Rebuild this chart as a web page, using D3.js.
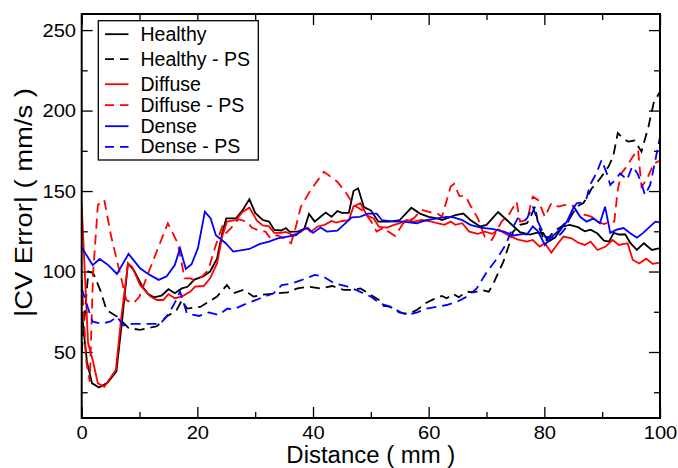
<!DOCTYPE html>
<html>
<head>
<meta charset="utf-8">
<script src="https://cdn.jsdelivr.net/npm/d3@7"></script>
<style>
  html, body { margin: 0; padding: 0; background: #fff; }
  svg { display: block; font-family: "Liberation Sans", Arial, Helvetica, sans-serif; }
</style>
</head>
<body>
<svg id="chart" width="678" height="468"></svg>
<script>
// ---------------- data (distance in mm, |CV error| in mm/s) ----------------
const healthy = [[0,75],[0.9,44],[1.8,30.5],[3,28],[4.5,31],[6,38],[7,70],[8,105],[9,101],[10.5,90.6],[11.5,86],[12.5,84],[13.8,85],[15,89],[16.1,86.5],[17.3,89.5],[18.3,90.5],[19.5,95],[21,97],[22.2,100],[23.4,108],[24.3,124],[25,133],[26.7,133],[27.8,138],[29,145],[30,136.4],[31.3,132],[32.4,131],[33.3,125.8],[34.5,125.5],[35.3,127],[36,124.6],[37.5,125],[38.5,126.5],[39.3,135.8],[40.3,131],[41.3,134],[42.2,136.6],[43.2,134],[44.2,137.6],[45,136.5],[46.2,136.5],[47,150],[47.8,151.7],[48.8,140],[50,138],[51.3,131],[53.3,131],[55,132],[57,139.6],[58.5,136],[60,134],[61.5,133],[62.3,132],[63.8,134],[64.6,135],[66,136],[67.2,132],[68.9,128],[70,129],[72,137],[73.5,132],[74.7,128],[75.8,124.5],[77.5,123],[78.6,124],[79.8,124],[80.7,118.6],[81.8,121],[83.2,128],[84.4,129],[85.8,127.6],[87,125],[88,126],[89.2,123.6],[90.3,119.2],[91.2,118.6],[92,124],[92.9,123],[94,123],[94.9,117.6],[96,113.4],[97.2,117.6],[98.6,113.4],[100,114.5]];

const healthyPS = [[0,50],[1.15,100],[2,99],[3.2,88.5],[4.3,76],[6.1,72],[8.1,65],[10.1,63.7],[13,66],[14.7,72],[16.4,76],[17.3,82],[18.2,77],[20.5,78],[23.4,84.4],[25.1,91.6],[26.2,86.5],[28,88.6],[29.7,84.4],[31,85.5],[32.4,86],[33.6,86.5],[35.6,87],[37.3,89.5],[39.3,90.6],[41.3,89.5],[43.3,91],[45.3,88.6],[47,88.6],[48.2,89.5],[50,85.5],[51.4,82.3],[52.2,78.6],[53.3,78.2],[55,74.4],[56.5,73.7],[57.9,76],[59.6,80.6],[60.8,82.7],[62.3,84.8],[63.1,83.4],[64.3,86],[65.2,84],[66.6,87.5],[67.8,87],[69.2,88.5],[70.4,87.5],[71.2,92.6],[72,99],[72.9,106],[73.8,115.5],[74.6,124.8],[75.8,129],[77,130],[77.5,133],[78.4,140.4],[79,128],[80.1,118.6],[81.2,123],[82.1,126],[83,128],[84.4,133],[85.6,140.4],[86.7,142.4],[87.3,145.5],[88.2,151.7],[89,154.8],[89.9,159],[91.1,165.2],[91.9,171.4],[92.7,186],[93.6,182.8],[94.5,180.7],[95.6,181.4],[96.8,174.5],[98,190],[98.9,204.6],[100,211.8]];

const diffuse = [[0,141.4],[1.1,55.6],[1.9,45],[2.8,30.5],[3.9,28.4],[5.9,38.8],[6.8,70],[8,105],[8.7,103],[10.1,91.6],[11.9,84.4],[13,82.3],[14.1,82.3],[15,86],[16.1,83.4],[17.3,84.4],[18.8,87.5],[19.6,90.6],[21.1,91],[22.2,95.8],[23.4,105],[24.3,121.7],[25.1,131],[26.7,132],[27.8,137],[29,139.7],[30.3,131.6],[31.3,128.6],[32.4,128],[33.3,124],[34.5,124],[35.3,124.6],[36.5,122.7],[37.9,124.6],[38.8,127.3],[39.6,124.6],[40.8,128],[42,129],[43.2,131.4],[44,130.4],[45.1,131.4],[46.2,132],[47,140.4],[48.2,142.4],[49.3,135],[50.5,133],[51.4,127.7],[52.8,127.3],[54,129],[55,130],[56.2,132],[57.4,131],[58.8,132],[60.5,131],[61.5,130],[62.7,129],[63.8,131],[64.6,129],[65.8,130],[67,124.8],[68.5,123.4],[69.7,124.8],[71,123.4],[72,126.2],[73.5,123],[75.3,120],[77,118.6],[78,119.6],[79.2,115.5],[80.1,117.6],[81.2,111.7],[82.4,117.6],[83.3,121.7],[84.7,120.6],[85.8,118],[87,116.5],[88,118.6],[89.2,113.4],[90.6,115.5],[91.8,119.6],[92.9,116.5],[94.4,117.6],[95.3,107.2],[96.4,105],[97.6,108],[98.7,104.8],[100,105.6]];

const diffusePS = [[0,95],[0.8,44],[1.4,31.5],[1.95,97.9],[2.8,141.4],[3.9,144.5],[5.1,121.7],[6.9,94.8],[7.7,82.3],[8.9,80.2],[10,84.4],[11.5,99],[13.3,115.5],[14.9,130],[16.6,117.6],[17.8,95.8],[18.8,95.8],[19.3,94.8],[20.8,96.8],[21.9,101],[23.1,115.5],[24.3,128],[25,124],[25.8,127],[27.1,132.5],[28.6,131],[29.4,127.3],[30.6,125.5],[31.8,124.8],[32.6,120.7],[33.8,122.6],[35,120.7],[36.2,117.6],[37,127.3],[37.9,140.4],[39.6,150.7],[41.9,162],[44.2,155.8],[45.7,149],[47,141.4],[48.8,137.3],[50,131.4],[51,124.8],[52.2,127.3],[53,124.8],[54.2,122],[55.6,130],[57.4,133],[58.8,138.3],[60,137],[61.5,136],[62.3,134],[63.8,152.8],[64.4,154.4],[65.3,147],[66.4,146.7],[67.3,140.4],[68.5,133],[69.7,121.6],[70.9,119.6],[71.7,124.8],[72.6,131],[73.8,135],[75.2,143.4],[75.8,131],[77,132],[78,146.5],[78.9,144.5],[80.1,134],[81.2,142.4],[82.4,140.3],[83.6,141.4],[84.8,141.4],[85.8,136.2],[87.3,135],[88.2,134],[89.2,131],[90.3,129.5],[91.5,131],[92.1,131],[92.7,150.7],[93.3,161],[94.2,165],[95.3,171.4],[96.2,175.6],[96.8,152.8],[97.7,157],[98.9,167],[100,169]];

const dense = [[0,115],[1.9,104],[3.1,107.8],[4.6,104],[6.1,98.5],[8.1,111],[10.1,102],[11.5,98.5],[13.3,94.8],[14.7,97],[16.1,104],[17,114.5],[18,101.6],[19,104.5],[20.1,114.5],[21.3,137.2],[22.3,133],[23.2,122.6],[24.9,117.6],[26.2,112.4],[29,114],[30.7,117],[32.4,118.6],[33.9,120.6],[35.3,121.6],[37.1,122.6],[38,125.8],[39.1,127],[40,124],[41.3,127.3],[42.4,124.8],[44.2,125.4],[45.3,129],[46.7,133.6],[48.1,134],[49.5,136],[51,136],[51.9,132],[54,131],[55.6,131],[57.9,130],[59.6,132],[61.5,133],[63.1,134],[64.3,133.6],[65.8,132],[67.2,129],[69,127.3],[71.2,126.3],[73,124.8],[74.7,122.4],[76.4,123.4],[77,123],[78,128],[78.9,125],[80.1,116.5],[81,120.6],[82.7,126.2],[83.9,131],[85.1,140.3],[86.2,134],[87.3,131],[88.5,133],[89.6,130],[90.5,140.3],[91.4,124],[92.5,126],[93.7,127],[94.8,124],[96,121],[97.1,124],[98.3,128],[99.2,131],[100,130.5]];

const densePS = [[0,89.6],[1.3,75],[1.9,68.8],[3.5,67.5],[5,69],[6.1,72],[7.2,66.5],[8.7,67.5],[11,67.5],[13.6,67.5],[15.1,74],[16.2,81.3],[17,87.5],[18.2,74],[20.3,72.4],[22,74.6],[23.7,73],[25.2,77],[26.2,76.5],[28.6,80.2],[30.9,83.4],[33.2,86.5],[34.6,91.6],[36.4,92.6],[38.1,94.8],[40.3,97.9],[41.7,97],[43.7,92.6],[45.7,91],[47.8,88],[50,84.4],[51.6,80.2],[53.3,78.2],[55,75],[56.2,73],[57.9,74.4],[59.6,77],[61.5,78.2],[63.1,79.2],[64.9,81.2],[66.6,84.4],[68.3,89.5],[70.1,100],[71.8,108],[73.3,116.5],[74.5,127],[75.4,133],[76.6,132],[77,133],[78,140.4],[78.9,131],[80.1,121.7],[82.1,120.7],[83,124],[83.9,128],[84.8,138.3],[85.6,142.4],[86.5,142.8],[87.3,145.5],[87.9,153.8],[89,161],[89.9,169.3],[90.8,161],[91.4,153.8],[92.3,157],[93.1,161],[94.3,157],[95.2,165.2],[96.1,161],[96.8,154.8],[97.4,147.6],[98.3,153.8],[99.2,169.3],[100,183.8]];

const seriesNames  = ["Healthy", "Healthy - PS", "Diffuse", "Diffuse - PS", "Dense", "Dense - PS"];
const seriesColors = ["#000000", "#000000", "#ff0000", "#ff0000", "#0000ff", "#0000ff"];
const seriesDashed = [false, true, false, true, false, true];
const seriesData   = [healthy, healthyPS, diffuse, diffusePS, dense, densePS];

const xMajorTicks = [0, 20, 40, 60, 80, 100];
const xMinorTicks = [10, 30, 50, 70, 90];
const yMajorTicks = [50, 100, 150, 200, 250];
const yMinorTicks = [25, 75, 125, 175, 225];
const xTitle = "Distance ( mm )";
const yTitle = "|CV Error| ( mm/s )";

// ---------------- layout ----------------
const L = 81.7, R = 660, T = 14, B = 418;
const svg = d3.select("#chart");
const x = d3.scaleLinear().domain([0, 100]).range([L, R]);
const y = d3.scaleLinear().domain([9, 260]).range([B, T]);

const SX = 1.15; // horizontal stretch of tick labels
const fmt = d3.format("d");

// bottom axis
const gB = svg.append("g").attr("transform", `translate(0,${B})`)
  .call(d3.axisBottom(x).tickValues(xMajorTicks).tickSize(-11).tickFormat(fmt));
gB.selectAll("text").attr("y", 21).attr("dy", null)
  .attr("transform", `scale(${SX},1)`).style("font-size", "17.5px").attr("fill", "#000");
svg.append("g").attr("transform", `translate(0,${B})`)
  .call(d3.axisBottom(x).tickValues(xMinorTicks).tickSize(-6).tickFormat(""));
// top axis
svg.append("g").attr("transform", `translate(0,${T})`)
  .call(d3.axisTop(x).tickValues(xMajorTicks).tickSize(-11).tickFormat(""));
svg.append("g").attr("transform", `translate(0,${T})`)
  .call(d3.axisTop(x).tickValues(xMinorTicks).tickSize(-6).tickFormat(""));
// left axis
const gL = svg.append("g").attr("transform", `translate(${L},0)`)
  .call(d3.axisLeft(y).tickValues(yMajorTicks).tickSize(-11).tickFormat(fmt));
gL.selectAll("text").attr("x", -5.7 / SX).attr("y", 6.3).attr("dy", null)
  .attr("transform", `scale(${SX},1)`).style("font-size", "17.5px").attr("fill", "#000");
svg.append("g").attr("transform", `translate(${L},0)`)
  .call(d3.axisLeft(y).tickValues(yMinorTicks).tickSize(-6).tickFormat(""));
// right axis
svg.append("g").attr("transform", `translate(${R},0)`)
  .call(d3.axisRight(y).tickValues(yMajorTicks).tickSize(-11).tickFormat(""));
svg.append("g").attr("transform", `translate(${R},0)`)
  .call(d3.axisRight(y).tickValues(yMinorTicks).tickSize(-6).tickFormat(""));

svg.selectAll(".domain").remove();
svg.selectAll(".tick line").attr("stroke", "#000").attr("stroke-width", 1.3);
svg.selectAll(".tick text").attr("font-family", null);

// clip
svg.append("clipPath").attr("id", "clip")
  .append("rect").attr("x", L).attr("y", T).attr("width", R - L).attr("height", B - T);

// lines
const line = d3.line().x(d => x(d[0])).y(d => y(d[1]));
const gLines = svg.append("g").attr("clip-path", "url(#clip)");
seriesData.forEach((data, i) => {
  gLines.append("path")
    .datum(data)
    .attr("d", line)
    .attr("fill", "none")
    .attr("stroke", seriesColors[i])
    .attr("stroke-width", 1.8)
    .attr("stroke-linejoin", "miter")
    .attr("stroke-dasharray", seriesDashed[i] ? "10,6" : null);
});

// frame
svg.append("rect").attr("x", L).attr("y", T).attr("width", R - L).attr("height", B - T)
  .attr("fill", "none").attr("stroke", "#000").attr("stroke-width", 2);

// legend
const legBaselines = [40.7, 65.7, 90.7, 111.7, 132.7, 153.3];
const leg = svg.append("g");
leg.append("rect").attr("x", 98.3).attr("y", 20.7).attr("width", 160).attr("height", 139.3)
  .attr("fill", "#fff").attr("stroke", "#000").attr("stroke-width", 1.3);
seriesNames.forEach((name, i) => {
  const by = legBaselines[i];
  leg.append("line").attr("x1", 105).attr("x2", 128.5)
    .attr("y1", by - 6.5).attr("y2", by - 6.5)
    .attr("stroke", seriesColors[i]).attr("stroke-width", 1.8)
    .attr("stroke-dasharray", seriesDashed[i] ? "9,6" : null);
  leg.append("text").attr("x", 140.5).attr("y", by)
    .style("font-size", "19.5px").attr("fill", "#000").text(name);
});

// axis titles
svg.append("text").attr("x", (L + R) / 2).attr("y", 463)
  .attr("text-anchor", "middle").style("font-size", "23px")
  .attr("textLength", 169).attr("lengthAdjust", "spacingAndGlyphs")
  .text(xTitle);
svg.append("text").attr("transform", "translate(32,202.5) rotate(-90)")
  .attr("text-anchor", "middle").style("font-size", "23px")
  .attr("textLength", 229).attr("lengthAdjust", "spacingAndGlyphs")
  .text(yTitle);
</script>
</body>
</html>
